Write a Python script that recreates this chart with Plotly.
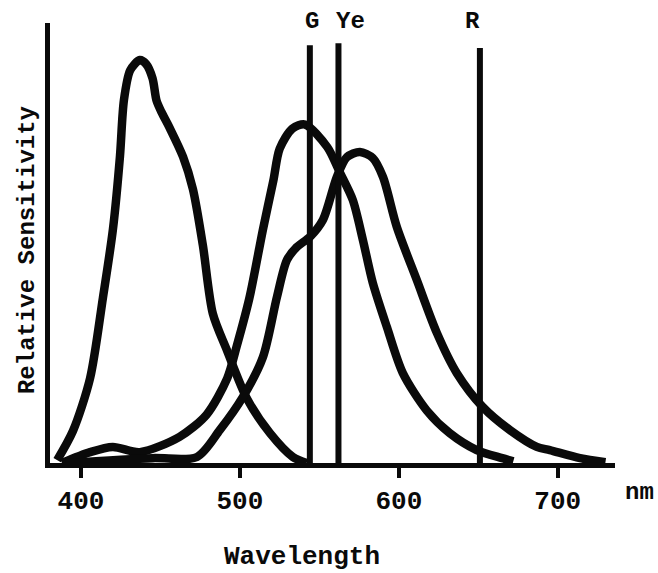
import plotly.graph_objects as go

# Cone sensitivity curves (relative units, blue peak = 1)
blue_wl = [385, 395, 405.7, 413.8, 420.1, 424.5, 427, 431, 437, 441, 445, 447.5,
           450.5, 456, 464.2, 470.4, 476.7, 483, 491.8, 504.4, 518.9, 533.3, 542]
blue_s = [0.007, 0.08, 0.21, 0.41, 0.58, 0.76, 0.9, 0.975, 1.0, 0.99, 0.955, 0.9,
          0.872, 0.83, 0.76, 0.68, 0.54, 0.37, 0.28, 0.16, 0.074, 0.015, 0.0]

green_wl = [388, 405.7, 420, 437, 462, 479, 492, 498, 506, 514.5, 521, 525, 533,
            541, 555, 563, 571, 577.4, 583.6, 592.5, 602.5, 617.6, 632, 649, 665, 672]
green_s = [0.0, 0.027, 0.04, 0.027, 0.065, 0.12, 0.21, 0.29, 0.41, 0.58, 0.70, 0.78, 0.83,
           0.84, 0.784, 0.72, 0.653, 0.553, 0.447, 0.337, 0.223, 0.13, 0.074, 0.032, 0.012, 0.004]

red_wl = [390, 445, 473, 487.4, 501.9, 514.5, 523.3, 529.6, 535.8, 544, 552.2, 561,
          567.3, 575.5, 583.6, 590, 598.7, 611.3, 623.9, 636.5, 652.8, 669.8, 686.8,
          695, 714, 730]
red_s = [0.0, 0.012, 0.015, 0.082, 0.164, 0.263, 0.412, 0.504, 0.536, 0.561, 0.603, 0.71,
         0.759, 0.772, 0.757, 0.71, 0.586, 0.454, 0.323, 0.223, 0.139, 0.082, 0.04,
         0.032, 0.012, 0.002]

# Reference wavelengths marked with vertical lines
mark_wl = [544, 562, 651]
mark_labels = ["G", "Ye", "R"]
mark_height = [1.037, 1.042, 1.03]
mark_label_shift = [2, 12, -7]

tick_vals = [400, 500, 600, 700]
tick_text = ["400", "500", "600", "700"]

INK = "#0a0a0a"
FONT = "Liberation Mono"

fig = go.Figure()

for wl, s in [(blue_wl, blue_s), (green_wl, green_s), (red_wl, red_s)]:
    fig.add_trace(go.Scatter(x=wl, y=s, mode="lines",
                             line=dict(color=INK, width=8.5, shape="spline", smoothing=0.8),
                             hoverinfo="skip", showlegend=False))

for wl, h, lab, dx in zip(mark_wl, mark_height, mark_labels, mark_label_shift):
    fig.add_trace(go.Scatter(x=[wl, wl], y=[0, h], mode="lines",
                             line=dict(color=INK, width=6),
                             hoverinfo="skip", showlegend=False, cliponaxis=False))
    fig.add_annotation(x=wl, y=1.0045, yref="paper", text=f"<b>{lab}</b>",
                       showarrow=False, xanchor="center", yanchor="middle", xshift=dx,
                       font=dict(family=FONT, size=24, color=INK))

fig.add_annotation(x=-0.0407, y=0.484, xref="paper", yref="paper",
                   xanchor="center", yanchor="middle",
                   text="<b>Relative Sensitivity</b>", textangle=-90, showarrow=False,
                   font=dict(family=FONT, size=24, color=INK))
fig.add_annotation(x=0.446, y=-0.2136, xref="paper", yref="paper",
                   xanchor="center", yanchor="middle",
                   text="<b>Wavelength</b>", showarrow=False,
                   font=dict(family=FONT, size=26, color=INK))
fig.add_annotation(x=1.044, y=-0.066, xref="paper", yref="paper",
                   xanchor="center", yanchor="middle",
                   text="<b>nm</b>", showarrow=False,
                   font=dict(family=FONT, size=24, color=INK))

fig.update_layout(
    width=658, height=573,
    margin=dict(l=50, r=43, t=23, b=110),
    paper_bgcolor="white", plot_bgcolor="white",
    xaxis=dict(range=[380.5, 736], showgrid=False, zeroline=False,
               showline=True, linewidth=5, linecolor=INK,
               tickmode="array", tickvals=tick_vals, ticktext=tick_text,
               ticks="outside", ticklen=10, tickwidth=4, tickcolor=INK,
               tickfont=dict(family=FONT, size=26, color=INK, weight="bold")),
    yaxis=dict(range=[0, 1.092], showgrid=False, zeroline=False,
               showline=True, linewidth=5, linecolor=INK,
               showticklabels=False, ticks=""),
)

fig.write_html("out.html")
